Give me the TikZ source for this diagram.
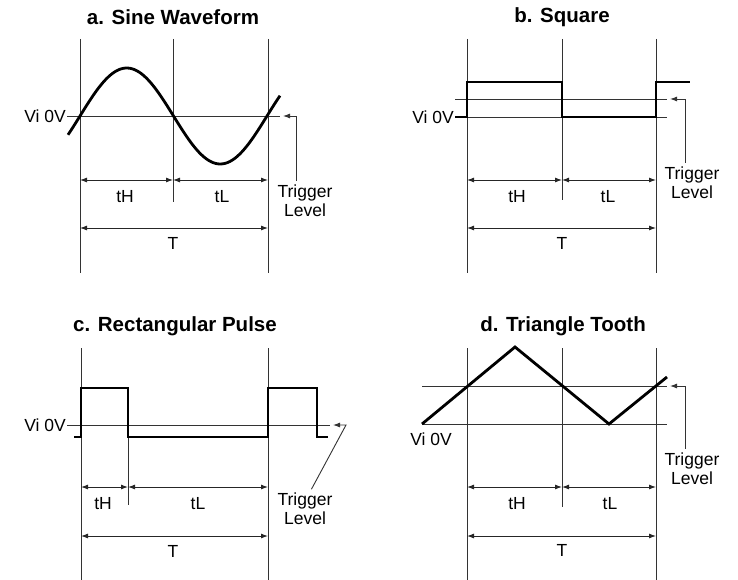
\documentclass[tikz,border=0pt]{standalone}
\usepackage{fontspec}
\setmainfont{Liberation Sans}
\usetikzlibrary{arrows.meta}

\tikzset{
  guide/.style={black!80,line width=0.9pt},
  wave/.style={black,line width=2.8pt,line join=miter},
  dim/.style={<->,black!85,line width=0.9pt},
  ptitle/.style={font=\fontsize{20.5}{24}\selectfont\bfseries},
  lbl/.style={font=\fontsize{17.5}{19}\selectfont,inner sep=1pt},
}

\begin{document}
\begin{tikzpicture}[x=1pt,y=-1pt,>={Latex[length=7pt,width=5pt]}]
\useasboundingbox (0,0) rectangle (738,580);

% ================= Panel (a): Sine waveform =================
\node[ptitle] (titleA) at (173,17) {a. Sine Waveform};
\draw[guide] (80,39) -- (80,273);
\draw[guide] (173,39) -- (173,202);
\draw[guide] (268,39) -- (268,273);
\node[lbl,anchor=east] (viA) at (67,116) {Vi 0V};
\draw[guide] (viA.east) -- (280,116);
\draw[wave,domain=68:280,samples=90,smooth] plot (\x,{116-48*sin((\x-80)/93.5*180)});
\coordinate (tipA) at (283,116);
\node[lbl,align=center] (trigA) at (305,201) {Trigger\\Level};
\draw[guide,->,shorten <=3pt] ([xshift=-9pt]trigA.north) |- (tipA);
\draw[dim] (80,180) -- (173,180);
\draw[dim] (173,180) -- (268,180);
\draw[dim] (80,228) -- (268,228);
\node[lbl] (tHA) at (125,197) {tH};
\node[lbl] (tLA) at (222,197) {tL};
\node[lbl] (TA) at (173,243) {T};

% ================= Panel (b): Square =================
\node[ptitle] (titleB) at (562,17) {b. Square};
\draw[guide] (467,39) -- (467,273);
\draw[guide] (562,39) -- (562,200);
\draw[guide] (656,39) -- (656,273);
\node[lbl,anchor=east] (viB) at (455,117) {Vi 0V};
\draw[guide] (viB.east) -- (667,117);
\draw[guide] (viB.east |- 0,99) -- (667,99);
\draw[wave] (viB.east) -- (467,117) -- (467,82) -- (562,82) -- (562,117)
  -- (656,117) -- (656,82) -- (690,82);
\coordinate (tipB) at (670,99);
\node[lbl,align=center] (trigB) at (692,183) {Trigger\\Level};
\draw[guide,->,shorten <=3pt] ([xshift=-7pt]trigB.north) |- (tipB);
\draw[dim] (467,180) -- (562,180);
\draw[dim] (562,180) -- (656,180);
\draw[dim] (467,228) -- (656,228);
\node[lbl] (tHB) at (517,197) {tH};
\node[lbl] (tLB) at (608,197) {tL};
\node[lbl] (TB) at (562,243) {T};

% ================= Panel (c): Rectangular pulse =================
\node[ptitle] (titleC) at (175,326) {c. Rectangular Pulse};
\draw[guide] (81,348) -- (81,580);
\draw[guide] (128,388) -- (128,505);
\draw[guide] (268,348) -- (268,580);
\node[lbl,anchor=east] (viC) at (67,425) {Vi 0V};
\draw[guide] (viC.east) -- (330,425);
\draw[wave] (74,437) -- (81,437) -- (81,388) -- (128,388) -- (128,437)
  -- (268,437) -- (268,388) -- (317,388) -- (317,437) -- (328,437);
\coordinate (tipC) at (333,425);
\coordinate (bendC) at (346,425);
\node[lbl,align=center] (trigC) at (305,509) {Trigger\\Level};
\draw[guide,->,shorten <=3pt] ([xshift=5pt]trigC.north) -- (bendC) -- (tipC);
\draw[dim] (81,487) -- (128,487);
\draw[dim] (128,487) -- (268,487);
\draw[dim] (81,536) -- (268,536);
\node[lbl] (tHC) at (103,504) {tH};
\node[lbl] (tLC) at (198,504) {tL};
\node[lbl] (TC) at (173,551) {T};

% ================= Panel (d): Triangle tooth =================
\node[ptitle] (titleD) at (563,326) {d. Triangle Tooth};
\draw[guide] (467,348) -- (467,580);
\draw[guide] (562,348) -- (562,507);
\draw[guide] (656,348) -- (656,580);
\draw[guide] (422,386) -- (667,386);
\draw[guide] (422,424) -- (667,424);
\node[lbl] (viD) at (431,439) {Vi 0V};
\draw[wave] (422,424) -- (515,347) -- (609,424) -- (667,377);
\coordinate (tipD) at (670,386);
\node[lbl,align=center] (trigD) at (692,469) {Trigger\\Level};
\draw[guide,->,shorten <=3pt] ([xshift=-7pt]trigD.north) |- (tipD);
\draw[dim] (467,487) -- (562,487);
\draw[dim] (562,487) -- (656,487);
\draw[dim] (467,536) -- (656,536);
\node[lbl] (tHD) at (517,504) {tH};
\node[lbl] (tLD) at (610,504) {tL};
\node[lbl] (TD) at (562,550) {T};
\end{tikzpicture}
\end{document}
